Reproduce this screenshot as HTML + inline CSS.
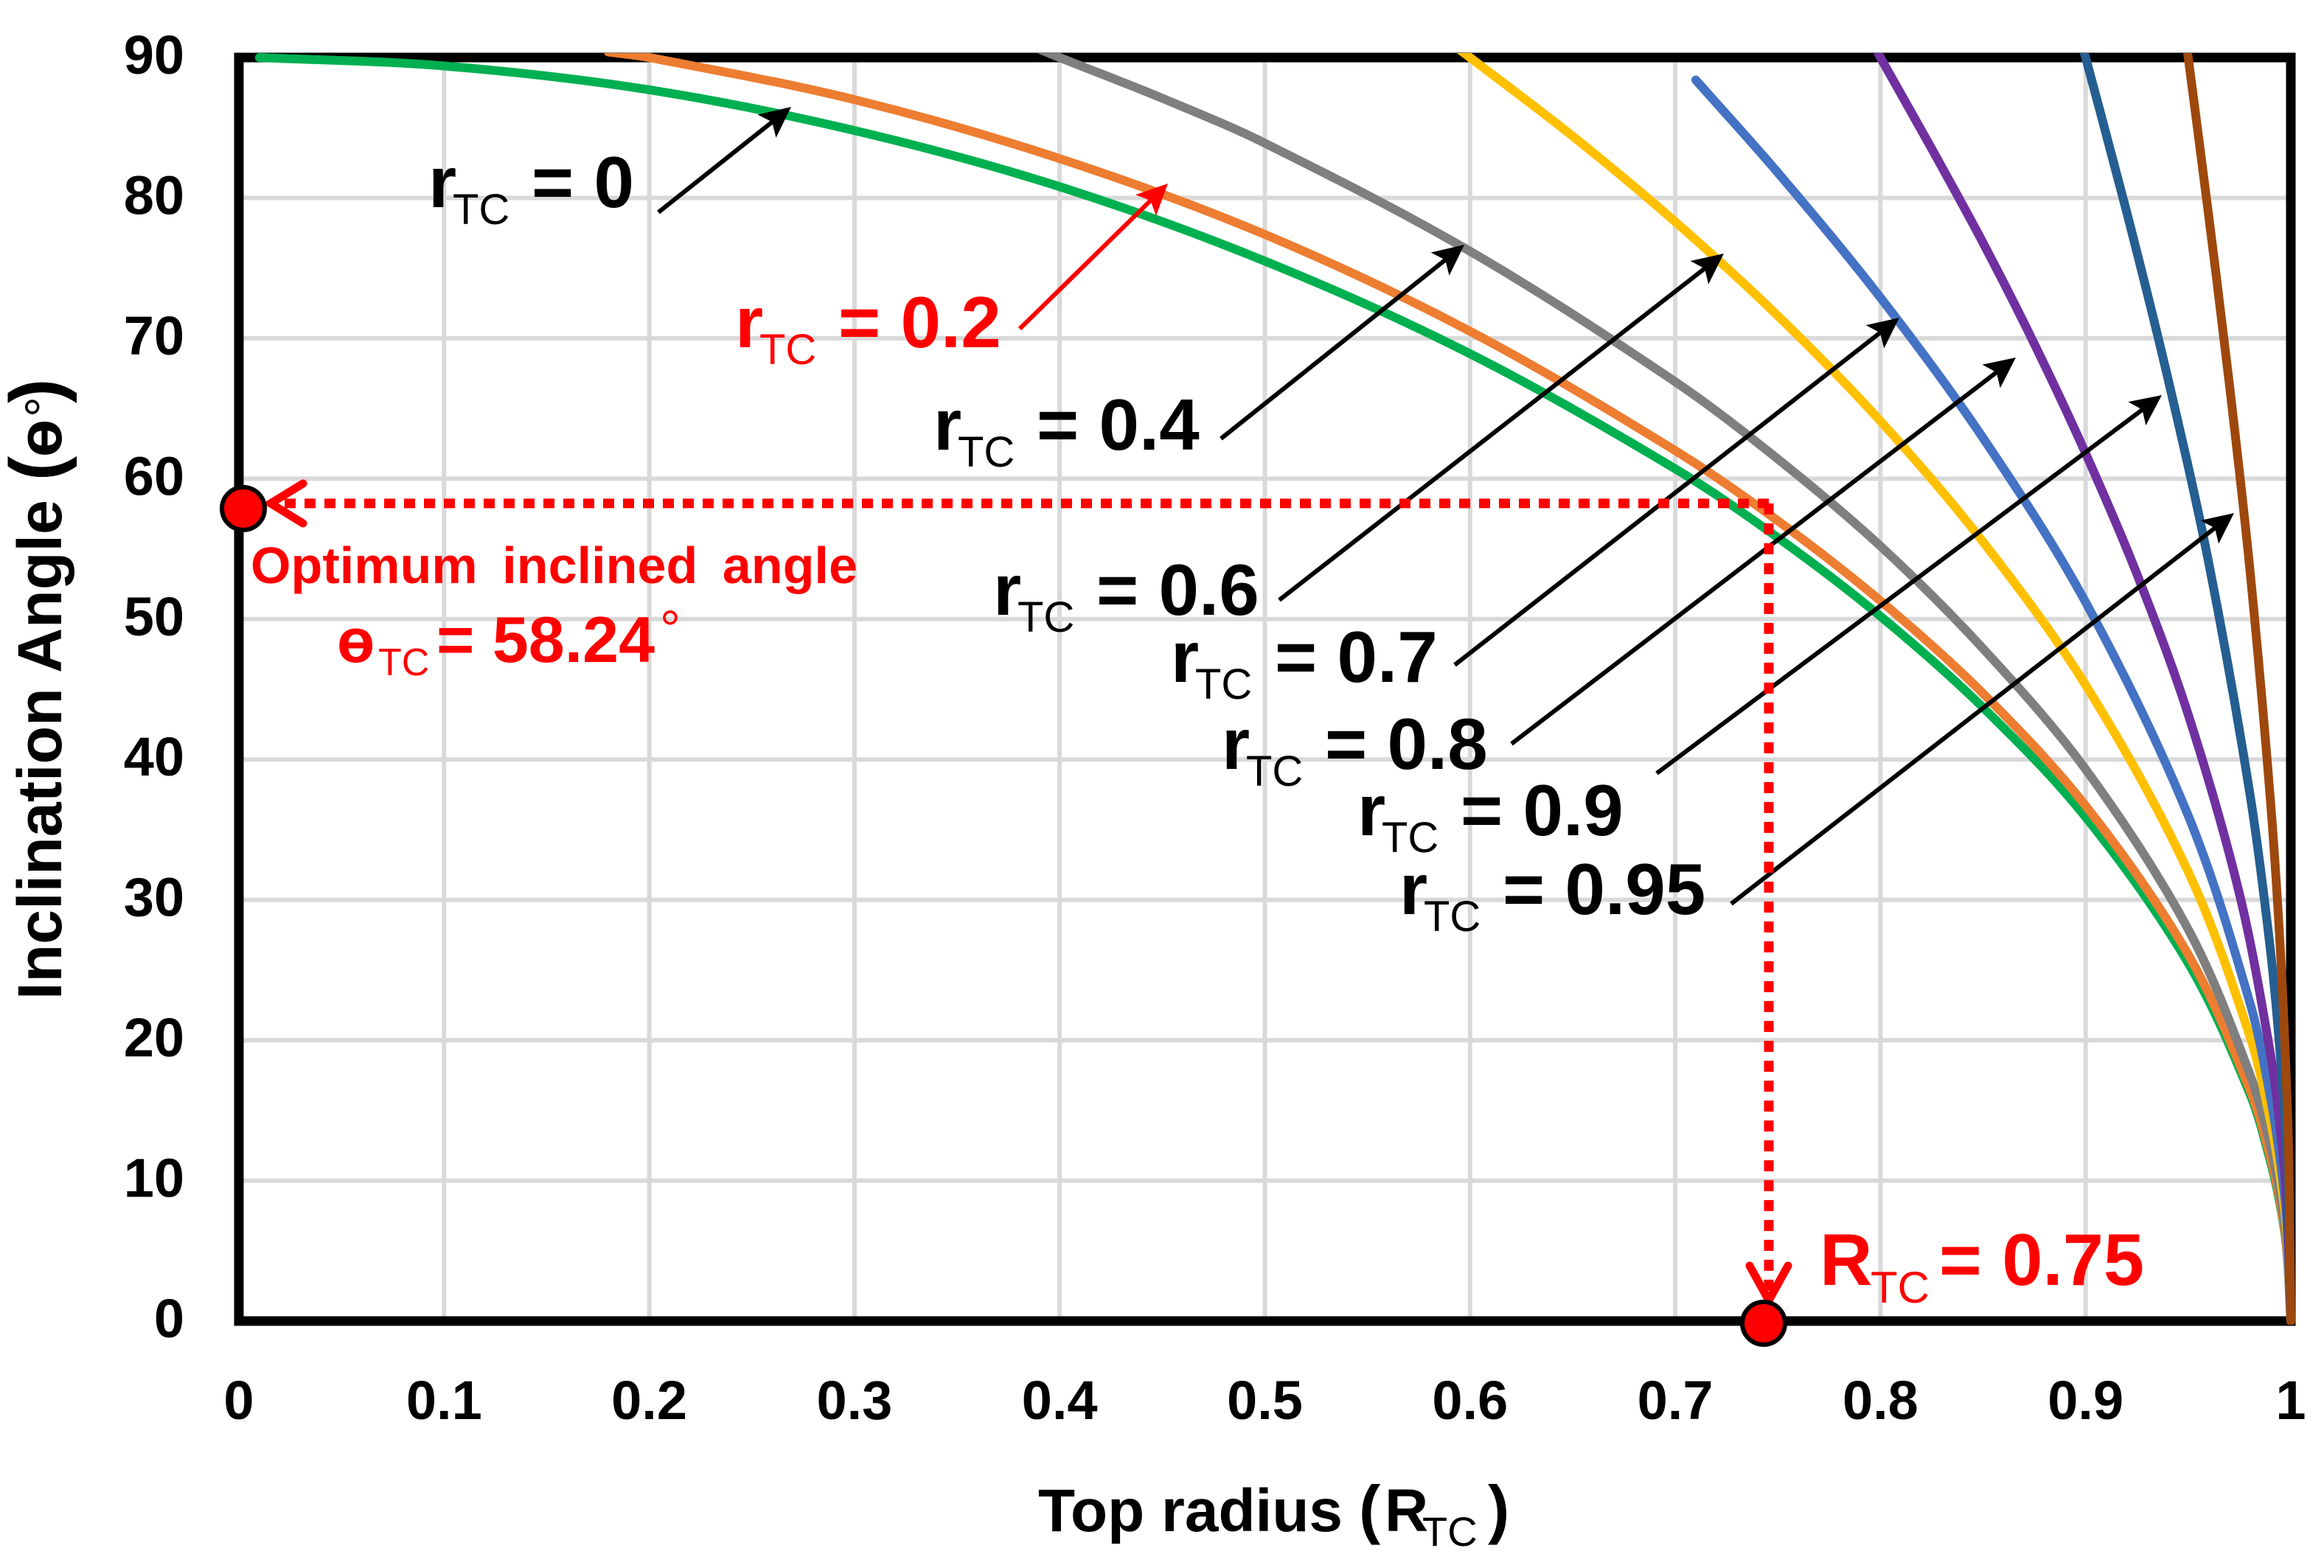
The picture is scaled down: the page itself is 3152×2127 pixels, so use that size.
<!DOCTYPE html>
<html lang="en">
<head>
<meta charset="utf-8">
<title>Inclination angle vs top radius</title>
<style>
html,body{margin:0;padding:0;background:#fff;}
svg{display:block;}
text{font-family:"Liberation Sans",sans-serif;font-weight:bold;}
.lab{font-size:98px;fill:#000;}
.red{fill:#f00;}
.sub{font-size:58px;font-weight:normal;}
.tick{font-size:74px;fill:#000;}
</style>
</head>
<body>
<svg id="chart" xmlns="http://www.w3.org/2000/svg" width="3152" height="2127" viewBox="0 0 3152 2127">
  <defs>
    <clipPath id="plot-clip"><rect x="300" y="72" width="2815" height="1725"/></clipPath>
  </defs>
  <rect x="0" y="0" width="3152" height="2127" fill="#fff"/>
  <g id="grid"></g>
  <rect x="324" y="78" width="2783" height="1714" fill="none" stroke="#000" stroke-width="13"/>
  <g id="ticks"></g>
  <g id="series" clip-path="url(#plot-clip)"></g>
  <g id="arrows"></g>
  <g id="guides"></g>

  <text y="2077" font-size="82">
    <tspan x="1408" y="2077" textLength="413" lengthAdjust="spacingAndGlyphs">Top radius</tspan><tspan x="1843" y="2077" font-size="88">(</tspan><tspan x="1878" y="2077">R</tspan><tspan x="1929" y="2097" font-size="56" font-weight="normal">TC</tspan><tspan x="2018" y="2077" font-size="88">)</tspan>
  </text>
  <text transform="translate(83,1356) rotate(-90)" font-size="84"><tspan x="0" y="0" textLength="678" lengthAdjust="spacingAndGlyphs">Inclination Angle</tspan><tspan x="704" y="0" font-size="100">(</tspan><tspan x="736" y="0">ө</tspan><tspan x="790" y="0" font-size="70" font-weight="normal">°</tspan><tspan x="809" y="0" font-size="100">)</tspan></text>

  <text class="lab"><tspan x="581" y="281">r</tspan><tspan class="sub" x="614" y="304">TC</tspan><tspan x="721" y="281">= 0</tspan></text>
  <text class="lab red"><tspan x="997" y="471">r</tspan><tspan class="sub" x="1030" y="494">TC</tspan><tspan x="1137" y="471">= 0.2</tspan></text>
  <text class="lab"><tspan x="1266" y="610">r</tspan><tspan class="sub" x="1299" y="633">TC</tspan><tspan x="1406" y="610">= 0.4</tspan></text>
  <text class="lab"><tspan x="1347" y="834">r</tspan><tspan class="sub" x="1380" y="857">TC</tspan><tspan x="1487" y="834">= 0.6</tspan></text>
  <text class="lab"><tspan x="1588" y="925">r</tspan><tspan class="sub" x="1621" y="948">TC</tspan><tspan x="1729" y="925">= 0.7</tspan></text>
  <text class="lab"><tspan x="1657" y="1043">r</tspan><tspan class="sub" x="1690" y="1066">TC</tspan><tspan x="1797" y="1043">= 0.8</tspan></text>
  <text class="lab"><tspan x="1841" y="1133">r</tspan><tspan class="sub" x="1874" y="1156">TC</tspan><tspan x="1981" y="1133">= 0.9</tspan></text>
  <text class="lab"><tspan x="1898" y="1240">r</tspan><tspan class="sub" x="1931" y="1263">TC</tspan><tspan x="2038" y="1240">= 0.95</tspan></text>

  <text class="red" x="340" y="791" font-size="70" textLength="823" lengthAdjust="spacing" word-spacing="14">Optimum inclined angle</text>
  <text class="red"><tspan x="457" y="898" font-size="84">ө</tspan><tspan x="513" y="916" font-size="52" font-weight="normal">TC</tspan><tspan x="592" y="898" font-size="88">= 58.24</tspan><tspan x="895" y="877" font-size="70" font-weight="normal">°</tspan></text>
  <text class="red"><tspan x="2468" y="1743" font-size="99">R</tspan><tspan x="2537" y="1767" font-size="60" font-weight="normal">TC</tspan><tspan x="2630" y="1743" font-size="99">= 0.75</tspan></text>
</svg>

<script>
// Axis ticks
const xTicks = [0, 0.1, 0.2, 0.3, 0.4, 0.5, 0.6, 0.7, 0.8, 0.9, 1];
const yTicks = [0, 10, 20, 30, 40, 50, 60, 70, 80, 90];

// Series values: top radius R and inclination angle
const rGreen = [0.01, 0.1, 0.2, 0.3, 0.4, 0.5, 0.6, 0.7, 0.75, 0.8, 0.85, 0.9, 0.95, 0.98, 0.99, 0.995, 0.998, 1];
const tGreen = [90, 89.4, 87.7, 84.8, 80.8, 75.5, 68.9, 60.7, 55.8, 50.2, 43.7, 35.9, 25.5, 16.2, 11.4, 8.1, 5.1, 0];
const rOrange = [0.18, 0.2, 0.3, 0.4, 0.5, 0.6, 0.7, 0.75, 0.8, 0.85, 0.9, 0.95, 0.98, 0.99, 0.995, 0.998, 1];
const tOrange = [90.4, 90, 87, 82.8, 77.4, 70.5, 62, 57, 51.3, 44.7, 36.7, 26.1, 16.5, 11.7, 8.3, 5.2, 0];
const rGray = [0.39, 0.4, 0.45, 0.5, 0.6, 0.7, 0.75, 0.8, 0.85, 0.9, 0.95, 0.98, 0.99, 0.995, 0.998, 1];
const tGray = [90.6, 90, 87.1, 83.9, 76.2, 66.9, 61.4, 55.2, 47.9, 39.3, 27.9, 17.6, 12.5, 8.8, 5.6, 0];
const rYellow = [0.59, 0.6, 0.65, 0.7, 0.75, 0.8, 0.85, 0.9, 0.95, 0.98, 0.99, 0.995, 0.998, 1];
const tYellow = [91.1, 90, 84.4, 78.3, 71.6, 64.1, 55.5, 45.3, 32, 20.3, 14.3, 10.1, 6.4, 0];
const rBlue = [0.71, 0.75, 0.8, 0.85, 0.9, 0.95, 0.98, 0.99, 0.995, 0.998, 1];
const tBlue = [88.4, 81.8, 72.9, 62.9, 51.2, 36, 22.7, 16, 11.3, 7.2, 0];
const rPurple = [0.799, 0.8, 0.825, 0.85, 0.875, 0.9, 0.925, 0.95, 0.975, 0.99, 0.995, 0.998, 1];
const tPurple = [90.3, 90, 83.5, 76.8, 69.6, 61.8, 53.2, 43.2, 30.4, 19.1, 13.5, 8.5, 0];
const rNavy = [0.899, 0.9, 0.92, 0.94, 0.96, 0.98, 0.99, 0.995, 0.998, 1];
const tNavy = [90.5, 90, 79, 67.2, 54, 37.6, 26.5, 18.7, 11.8, 0];
const rBrown = [0.9495, 0.95, 0.96, 0.97, 0.98, 0.99, 0.995, 0.998, 0.999, 1];
const tBrown = [90.5, 90, 78.7, 66.8, 53.6, 37.2, 26.2, 16.5, 11.6, 0];

// Optimum point
const optimumR = 0.7456;
const optimumTheta = 58.24;

const NS = 'http://www.w3.org/2000/svg';
function xScale(v) { return 324 + v * 2783; }
function yScale(v) { return 1792 - v * 19.044; }
function mk(tag, parent, attrs) {
  const el = document.createElementNS(NS, tag);
  for (const k in attrs) el.setAttribute(k, attrs[k]);
  parent.appendChild(el);
  return el;
}

// Grid and tick labels
const gridG = document.getElementById('grid');
const tickG = document.getElementById('ticks');
xTicks.forEach(function (t) {
  if (t !== 0 && t !== 1) {
    const gl = mk('line', gridG, { x1: xScale(t), x2: xScale(t), y1: 78, y2: 1792, stroke: '#d9d9d9', 'stroke-width': 6 });
    
    
  }
  const lb = mk('text', tickG, { class: 'tick', x: xScale(t), y: 1925, 'text-anchor': 'middle' });
  lb.textContent = String(t);
  
  
});
yTicks.forEach(function (t) {
  if (t !== 0 && t !== 90) {
    const gl = mk('line', gridG, { x1: 324, x2: 3107, y1: yScale(t), y2: yScale(t), stroke: '#d9d9d9', 'stroke-width': 6 });
    
    
  }
  const lb = mk('text', tickG, { class: 'tick', x: 250, y: yScale(t) + 22, 'text-anchor': 'end' });
  lb.textContent = String(t);
  
  
});

// Curves: smooth path through the data points, tangents weighted by chord length
function curvePath(rs, ts) {
  const p = rs.map(function (r, i) { return [xScale(r), yScale(ts[i])]; });
  const n = p.length;
  const d = [];
  for (let i = 0; i < n - 1; i++) d.push(Math.hypot(p[i + 1][0] - p[i][0], p[i + 1][1] - p[i][1]));
  const m = p.map(function (q, i) {
    const a = p[Math.max(i - 1, 0)], c = p[Math.min(i + 1, n - 1)];
    const len = (i > 0 ? d[i - 1] : 0) + (i < n - 1 ? d[i] : 0);
    return [(c[0] - a[0]) / len, (c[1] - a[1]) / len];
  });
  let s = 'M' + p[0][0] + ' ' + p[0][1];
  for (let i = 0; i < n - 1; i++) {
    const h = d[i] / 3;
    s += ' C' + (p[i][0] + m[i][0] * h) + ' ' + (p[i][1] + m[i][1] * h) + ' ' +
      (p[i + 1][0] - m[i + 1][0] * h) + ' ' + (p[i + 1][1] - m[i + 1][1] * h) + ' ' +
      p[i + 1][0] + ' ' + p[i + 1][1];
  }
  return s;
}
const seriesG = document.getElementById('series');
function drawCurve(rs, ts, color, w) {
  const el = mk('path', seriesG, { d: curvePath(rs, ts), fill: 'none', stroke: color, 'stroke-width': w, 'stroke-linecap': 'round', 'stroke-linejoin': 'round' });
  return el;
}
const cGreen = drawCurve(rGreen, tGreen, '#00b050', 12);


const cOrange = drawCurve(rOrange, tOrange, '#ed7d31', 12);


const cGray = drawCurve(rGray, tGray, '#7f7f7f', 12);


const cYellow = drawCurve(rYellow, tYellow, '#ffc000', 12);


const cBlue = drawCurve(rBlue, tBlue, '#4472c4', 12);


const cPurple = drawCurve(rPurple, tPurple, '#7030a0', 12);


const cNavy = drawCurve(rNavy, tNavy, '#255e91', 12);


const cBrown = drawCurve(rBrown, tBrown, '#9e480e', 12);



// Annotation arrows from label to curve
const arrowG = document.getElementById('arrows');
function drawArrow(x1, y1, x2, y2, color) {
  const g = mk('g', arrowG, {});
  const dx = x2 - x1, dy = y2 - y1, L = Math.hypot(dx, dy), ux = dx / L, uy = dy / L;
  mk('line', g, { x1: x1, y1: y1, x2: x2 - ux * 22, y2: y2 - uy * 22, stroke: color, 'stroke-width': 6 });
  const bx = x2 - ux * 42, by = y2 - uy * 42, nx = bx + ux * 9, ny = by + uy * 9;
  const pts = [[x2, y2], [bx - uy * 20, by + ux * 20], [nx, ny], [bx + uy * 20, by - ux * 20]];
  mk('polygon', g, { points: pts.map(function (q) { return q.join(','); }).join(' '), fill: color });
  return g;
}
const a0 = drawArrow(893, 288, 1073, 145, '#000');


const a2 = drawArrow(1383, 446, 1584, 249, '#f00');


const a4 = drawArrow(1656, 595, 1986, 332, '#000');


const a6 = drawArrow(1735, 814, 2338, 344, '#000');


const a7 = drawArrow(1973, 902, 2576, 431, '#000');


const a8 = drawArrow(2050, 1009, 2734, 485, '#000');


const a9 = drawArrow(2247, 1049, 2932, 536, '#000');


const a95 = drawArrow(2348, 1226, 3030, 696, '#000');



// Optimum guides and markers
const guideG = document.getElementById('guides');
const gx = xScale(optimumR), gy = yScale(optimumTheta);
const hGuide = mk('line', guideG, { x1: gx, y1: gy, x2: xScale(0) + 62, y2: gy, stroke: '#f00', 'stroke-width': 13, 'stroke-dasharray': '15 12' });


const vGuide = mk('line', guideG, { x1: gx, y1: gy, x2: gx, y2: yScale(0) - 30, stroke: '#f00', 'stroke-width': 13, 'stroke-dasharray': '15 12' });


const hHead = mk('polyline', guideG, { points: [[xScale(0) + 87, gy - 27], [xScale(0) + 43, gy], [xScale(0) + 87, gy + 27]].join(' '), fill: 'none', stroke: '#f00', 'stroke-width': 11, 'stroke-linecap': 'round' });


const vHead = mk('polyline', guideG, { points: [[gx - 26, yScale(0) - 75], [gx, yScale(0) - 28], [gx + 26, yScale(0) - 75]].join(' '), fill: 'none', stroke: '#f00', 'stroke-width': 11, 'stroke-linecap': 'round' });


const dotTheta = mk('circle', guideG, { cx: xScale(0) + 6, cy: gy + 7, r: 29, fill: '#f00', stroke: '#000', 'stroke-width': 6 });


const dotR = mk('circle', guideG, { cx: gx - 7, cy: yScale(0) + 3, r: 29, fill: '#f00', stroke: '#000', 'stroke-width': 6 });


</script>
</body>
</html>
